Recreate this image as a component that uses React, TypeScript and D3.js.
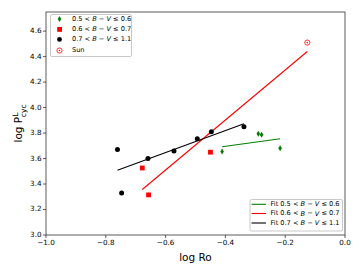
import React from "react";
import * as d3 from "d3";

// point data
const blackPts: [number, number][] = [
  [-0.761, 3.67],
  [-0.747, 3.33],
  [-0.659, 3.6],
  [-0.572, 3.66],
  [-0.494, 3.755],
  [-0.447, 3.81],
  [-0.338, 3.85],
];
const redPts: [number, number][] = [
  [-0.678, 3.526],
  [-0.657, 3.315],
  [-0.45, 3.65],
];
const greenPts: [number, number][] = [
  [-0.411, 3.656],
  [-0.29, 3.795],
  [-0.279, 3.787],
  [-0.217, 3.68],
];
const sun: [number, number] = [-0.126, 4.51];

// fit line endpoints
const greenFit: [number, number][] = [
  [-0.411, 3.693],
  [-0.217, 3.755],
];
const redFit: [number, number][] = [
  [-0.678, 3.357],
  [-0.126, 4.44],
];
const blackFit: [number, number][] = [
  [-0.761, 3.508],
  [-0.338, 3.873],
];

const xTicks = [-1.0, -0.8, -0.6, -0.4, -0.2, 0.0];
const yTicks = [3.0, 3.2, 3.4, 3.6, 3.8, 4.0, 4.2, 4.4, 4.6];

const GREEN = "#008000";
const RED = "#ff0000";

const left = 46;
const right = 345;
const top = 12;
const bottom = 235;

const x = d3.scaleLinear().domain([-1.0, 0.0]).range([left, right]);
const y = d3.scaleLinear().domain([3.0, 4.75]).range([bottom, top]);
const line = d3
  .line<[number, number]>()
  .x((d) => x(d[0]))
  .y((d) => y(d[1]));

const fmt = d3.format(".1f");
const minus = (v: number) => fmt(v).replace("-", "\u2212");

const Label = ({ lo, hi, x0, y0 }: { lo: string; hi: string; x0: number; y0: number }) => (
  <text x={x0} y={y0} fontSize={6.6} fill="#000" dominantBaseline="middle">
    {lo} &lt; <tspan fontStyle="italic">B</tspan> {"\u2212"} <tspan fontStyle="italic">V</tspan> ≤ {hi}
  </text>
);

const App = () => {
  const diamond = (cx: number, cy: number, key: number) => (
    <path
      key={key}
      d={`M${cx},${cy - 3} L${cx + 1.8},${cy} L${cx},${cy + 3} L${cx - 1.8},${cy} Z`}
      fill={GREEN}
    />
  );
  return (
    <svg
      width={360}
      height={270}
      style={{ position: "absolute", left: 0, top: 0, fontFamily: "DejaVu Sans" }}
    >
      <rect width={360} height={270} fill="#fff" />
      {/* fit lines */}
      <path d={line(greenFit) || ""} stroke={GREEN} strokeWidth={1.1} fill="none" />
      <path d={line(redFit) || ""} stroke={RED} strokeWidth={1.1} fill="none" />
      <path d={line(blackFit) || ""} stroke="#000" strokeWidth={1.1} fill="none" />
      {/* points */}
      {greenPts.map((d, i) => diamond(x(d[0]), y(d[1]), i))}
      {redPts.map((d, i) => (
        <rect key={i} x={x(d[0]) - 2.4} y={y(d[1]) - 2.4} width={4.8} height={4.8} fill={RED} />
      ))}
      {blackPts.map((d, i) => (
        <circle key={i} cx={x(d[0])} cy={y(d[1])} r={2.5} fill="#000" />
      ))}
      <circle cx={x(sun[0])} cy={y(sun[1])} r={2.6} fill="none" stroke={RED} strokeWidth={0.8} />
      <circle cx={x(sun[0])} cy={y(sun[1])} r={0.8} fill={RED} />
      {/* frame */}
      <rect
        x={left}
        y={top}
        width={right - left}
        height={bottom - top}
        fill="none"
        stroke="#333"
        strokeWidth={0.8}
      />
      {/* x ticks */}
      {xTicks.map((t) => (
        <g key={t}>
          <line x1={x(t)} x2={x(t)} y1={bottom} y2={bottom + 3} stroke="#333" strokeWidth={0.8} />
          <text x={x(t)} y={bottom + 10} fontSize={7.2} textAnchor="middle" fill="#000">
            {minus(t)}
          </text>
        </g>
      ))}
      {/* y ticks */}
      {yTicks.map((t) => (
        <g key={t}>
          <line x1={left - 3} x2={left} y1={y(t)} y2={y(t)} stroke="#333" strokeWidth={0.8} />
          <text x={left - 4.5} y={y(t)} fontSize={7.2} textAnchor="end" dominantBaseline="middle" fill="#000">
            {fmt(t)}
          </text>
        </g>
      ))}
      <text x={(left + right) / 2} y={261} fontSize={10.5} textAnchor="middle" fill="#000">
        log Ro
      </text>
      <text transform={`translate(22,${(top + bottom) / 2}) rotate(-90)`} fontSize={10.5} textAnchor="middle" fill="#000">
        log P
        <tspan fontSize={7.5} dy={-4}>L</tspan>
        <tspan fontSize={7.5} dx={-4.5} dy={7.5}>cyc</tspan>
      </text>
      {/* top-left legend */}
      <rect x={50.5} y={14.5} width={81} height={42} fill="#fff" stroke="#bbb" strokeWidth={0.8} rx={1.5} />
      {diamond(59.5, 19, 100)}
      <rect x={57.2} y={27} width={4.8} height={4.8} fill={RED} />
      <circle cx={59.5} cy={39.4} r={2.4} fill="#000" />
      <circle cx={59.5} cy={50.5} r={2.6} fill="none" stroke={RED} strokeWidth={0.8} />
      <circle cx={59.5} cy={50.5} r={0.8} fill={RED} />
      <Label lo="0.5" hi="0.6" x0={72} y0={19} />
      <Label lo="0.6" hi="0.7" x0={72} y0={29.4} />
      <Label lo="0.7" hi="1.1" x0={72} y0={39.4} />
      <text x={72} y={50.5} fontSize={6.6} fill="#000" dominantBaseline="middle">
        Sun
      </text>
      {/* bottom-right legend */}
      <rect x={250} y={199.5} width={92.5} height={31.5} fill="#fff" stroke="#bbb" strokeWidth={0.8} rx={1.5} />
      <line x1={251.5} x2={266} y1={204.3} y2={204.3} stroke={GREEN} strokeWidth={1.1} />
      <line x1={251.5} x2={266} y1={213.5} y2={213.5} stroke={RED} strokeWidth={1.1} />
      <line x1={251.5} x2={266} y1={223} y2={223} stroke="#000" strokeWidth={1.1} />
      <Label lo="Fit 0.5" hi="0.6" x0={270.5} y0={204.3} />
      <Label lo="Fit 0.6" hi="0.7" x0={270.5} y0={213.5} />
      <Label lo="Fit 0.7" hi="1.1" x0={270.5} y0={223} />
    </svg>
  );
};

export default App;
